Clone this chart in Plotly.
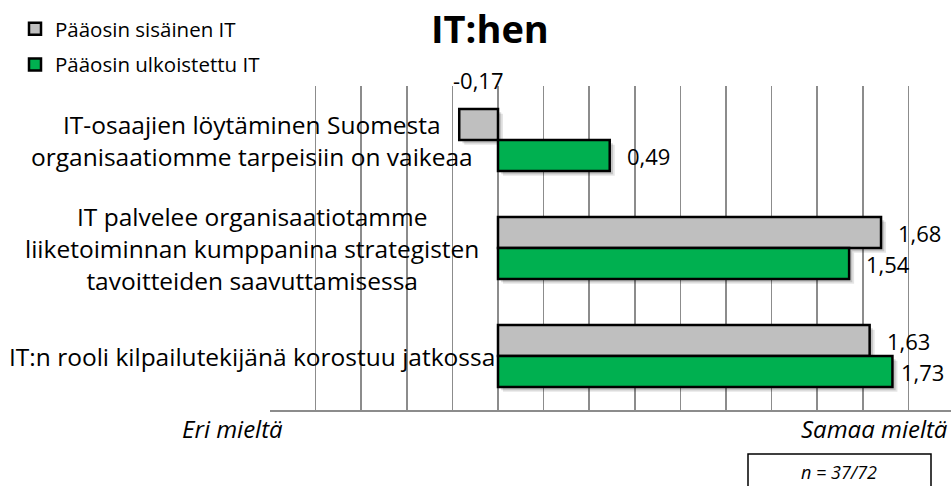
import plotly.graph_objects as go

# ---- data ----
categories = [
    "IT-osaajien löytäminen Suomesta<br>organisaatiomme tarpeisiin on vaikeaa",
    "IT palvelee organisaatiotamme<br>liiketoiminnan kumppanina strategisten<br>tavoitteiden saavuttamisessa",
    "IT:n rooli kilpailutekijänä korostuu jatkossa",
]
series_names = ["Pääosin sisäinen IT", "Pääosin ulkoistettu IT"]
internal_values = [-0.17, 1.68, 1.63]
outsourced_values = [0.49, 1.54, 1.73]
title_text = "IT:hen"
left_label = "Eri mieltä"
right_label = "Samaa mieltä"
n_text = "n = 37/72"

# ---- layout geometry ----
W, H = 951, 486
ML, MR, MT, MB = 270, 0, 86, 76
PW, PH = W - ML - MR, H - MT - MB
SCALE = 228.0  # px per unit
XMIN = -1.0
XMAX = XMIN + PW / SCALE

def px2x(px):
    return (px - ML) / PW

def py2y(py):
    return (H - MB - py) / PH

FONT = "'Open Sans', sans-serif"
GRAY = "#BFBFBF"
GREEN = "#00B050"
GRID = "#8C8C8C"
BARGAP = 0.426
half = (1 - BARGAP) / 4.0

fig = go.Figure()
for name, vals, col in [(series_names[0], internal_values, GRAY),
                        (series_names[1], outsourced_values, GREEN)]:
    fig.add_trace(go.Bar(
        name=name, x=vals, y=categories, orientation="h",
        marker=dict(color=col, line=dict(color="black", width=2.5)),
        legendgroup=name, hoverinfo="skip",
    ))

shapes = []
annotations = []

# soft drop shadows behind bars
for si, vals in enumerate([internal_values, outsourced_values]):
    off = -half if si == 0 else half
    for ci, v in enumerate(vals):
        yy = ci + off
        for k, (dx, dy, a) in enumerate([(0.022, 0.045, 0.10), (0.014, 0.03, 0.15)]):
            shapes.append(dict(type="rect", xref="x", yref="y", layer="between",
                               x0=min(0, v) + dx, x1=max(0, v) + dx,
                               y0=yy - half + dy, y1=yy + half + dy,
                               line=dict(width=0), fillcolor="rgba(0,0,0,%.2f)" % a))

# category labels (centered text left of plot)
for c in categories:
    annotations.append(dict(
        x=px2x(252), xref="paper", y=c, yref="y", text=c, showarrow=False,
        xanchor="center", yanchor="middle", align="center",
        font=dict(family=FONT, size=24.5, color="black")))

# value labels
def fmt(v):
    return ("%.2f" % v).replace(".", ",")

VFONT = dict(family=FONT, size=22, color="black")
for si, vals in enumerate([internal_values, outsourced_values]):
    off = -half if si == 0 else half
    for ci, v in enumerate(vals):
        yy = ci + off
        if v < 0:
            annotations.append(dict(x=v / 2, y=yy - half, xref="x", yref="y",
                                    text=fmt(v), showarrow=False, xanchor="center",
                                    yanchor="bottom", yshift=12, font=VFONT))
        else:
            end_px = ML + (v - XMIN) * SCALE
            if end_px + 17 + 46 > W - 4:
                annotations.append(dict(x=px2x(946), y=yy, xref="paper", yref="y",
                                        text=fmt(v), showarrow=False, xanchor="right",
                                        yanchor="middle", font=VFONT))
            else:
                annotations.append(dict(x=v, y=yy, xref="x", yref="y",
                                        text=fmt(v), showarrow=False, xanchor="left",
                                        yanchor="middle", xshift=15, font=VFONT))

annotations += [
    dict(x=px2x(490), y=1.0 + MT / PH, xref="paper", yref="paper",
         text="<b>%s</b>" % title_text,
         showarrow=False, xanchor="center", yanchor="top",
         font=dict(family=FONT, size=38, color="black")),
    dict(x=px2x(232), y=py2y(428), xref="paper", yref="paper", text="<i>%s</i>" % left_label,
         showarrow=False, xanchor="center", yanchor="middle",
         font=dict(family=FONT, size=24, color="black")),
    dict(x=px2x(874), y=py2y(428), xref="paper", yref="paper", text="<i>%s</i>" % right_label,
         showarrow=False, xanchor="center", yanchor="middle",
         font=dict(family=FONT, size=24, color="black")),
    dict(x=px2x(839), y=py2y(472), xref="paper", yref="paper", text="<i>%s</i>" % n_text,
         showarrow=False, xanchor="center", yanchor="middle",
         font=dict(family=FONT, size=18, color="black")),
]

shapes.append(dict(type="rect", xref="paper", yref="paper",
                   x0=px2x(748), x1=px2x(931), y0=py2y(495), y1=py2y(454),
                   line=dict(color="black", width=1.5), fillcolor="rgba(0,0,0,0)"))

fig.update_layout(
    width=W, height=H,
    margin=dict(l=ML, r=MR, t=MT, b=MB, pad=0, autoexpand=False),
    paper_bgcolor="white", plot_bgcolor="white",
    barmode="group", bargap=BARGAP, bargroupgap=0,
    showlegend=True,
    legend=dict(x=px2x(15), y=py2y(9), xref="paper", yref="paper",
                xanchor="left", yanchor="top", traceorder="grouped",
                tracegroupgap=6, bgcolor="rgba(0,0,0,0)",
                font=dict(family=FONT, size=20.5, color="black")),
    xaxis=dict(range=[XMIN, XMAX], showgrid=True, gridcolor=GRID, gridwidth=1.5,
               tick0=-1, dtick=0.2, showticklabels=False, zeroline=False,
               showline=True, linecolor=GRID, linewidth=2, ticks=""),
    yaxis=dict(autorange="reversed", showticklabels=False, showgrid=False,
               zeroline=False, showline=False, ticks=""),
    annotations=annotations, shapes=shapes,
    font=dict(family=FONT),
    hovermode=False,
)

fig.write_html("out.html", config={"displayModeBar": False, "staticPlot": True},
               post_script="document.body.style.margin='0';document.body.style.overflow='hidden';")
